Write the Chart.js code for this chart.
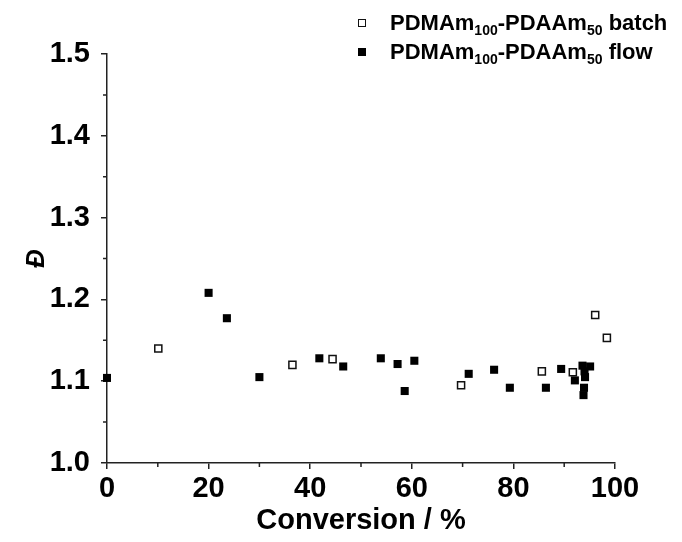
<!DOCTYPE html>
<html>
<head>
<meta charset="utf-8">
<script src="https://cdn.jsdelivr.net/npm/chart.js@4.4.3/dist/chart.umd.min.js"></script>
<style>
  *{box-sizing:border-box;margin:0;padding:0}
  body{background:#fff}
  #wrap{position:relative;width:682px;height:542px}
  .legend{position:absolute;left:358px;top:8px;font:bold 22px "Liberation Sans",Arial,sans-serif;color:#000}
  .row{display:flex;align-items:center;height:29px;white-space:nowrap}
  .mk{width:8px;height:8px;margin-right:24px}
  .mk.open{border:1.5px solid #111;background:#fff}
  .mk.fill{background:#000}
  sub{font-size:14px;vertical-align:-5px;line-height:0}
</style>
</head>
<body>
<div id="wrap">
  <canvas id="c" width="682" height="542"></canvas>
  <div class="legend">
    <div class="row"><span class="mk open"></span><span>PDMAm<sub>100</sub>-PDAAm<sub>50</sub> batch</span></div>
    <div class="row"><span class="mk fill"></span><span>PDMAm<sub>100</sub>-PDAAm<sub>50</sub> flow</span></div>
  </div>
</div>
<script>
// conversion (%) and dispersity
const batchX = [10.1, 36.5, 44.4, 69.7, 85.6, 91.7, 96.1, 98.4]
const batchY = [1.140, 1.120, 1.127, 1.095, 1.112, 1.111, 1.181, 1.153]
const flowX = [0, 20.0, 23.6, 30.0, 41.8, 46.5, 53.9, 57.2, 58.6, 60.5, 71.2, 76.2, 79.3, 86.4, 89.4, 92.1, 93.6, 95.1, 94.1, 93.9, 93.8, 94.0]
const flowY = [1.104, 1.208, 1.177, 1.105, 1.128, 1.118, 1.128, 1.121, 1.088, 1.125, 1.109, 1.114, 1.092, 1.092, 1.115, 1.101, 1.119, 1.118, 1.105, 1.092, 1.083, 1.112]

const xMinor = [10, 30, 50, 70, 90]
const yMinor = [1.05, 1.15, 1.25, 1.35, 1.45]

const AXIS = '#222'
const FONT = '"Liberation Sans", Arial, sans-serif'

const pts = (xs, ys) => xs.map((x, i) => ({ x, y: ys[i] }))

// short minor ticks between the labelled ones
const minorTicks = {
  id: 'minorTicks',
  beforeDatasetsDraw(chart) {
    const { ctx, scales: { x, y } } = chart
    ctx.save()
    ctx.strokeStyle = AXIS
    ctx.lineWidth = 1.5
    ctx.beginPath()
    xMinor.forEach(v => {
      const px = x.getPixelForValue(v)
      ctx.moveTo(px, y.bottom); ctx.lineTo(px, y.bottom + 4)
    })
    yMinor.forEach(v => {
      const py = y.getPixelForValue(v)
      ctx.moveTo(x.left, py); ctx.lineTo(x.left - 4, py)
    })
    ctx.stroke()
    ctx.restore()
  }
}

const axisGrid = { display: true, drawOnChartArea: false, drawTicks: true, tickLength: 6, color: AXIS, lineWidth: 1.5 }
const tickFont = { family: FONT, size: 29, weight: 'bold' }

new Chart(document.getElementById('c'), {
  type: 'scatter',
  data: {
    datasets: [
      { label: 'batch', data: pts(batchX, batchY), pointStyle: 'rect', pointRadius: 5.0,
        backgroundColor: '#fff', borderColor: '#111', borderWidth: 1.5, clip: false },
      { label: 'flow', data: pts(flowX, flowY), pointStyle: 'rect', pointRadius: 5.7,
        backgroundColor: '#000', borderColor: '#000', borderWidth: 0, clip: false },
    ]
  },
  options: {
    responsive: false,
    animation: false,
    layout: { padding: { left: 4, right: 67, top: 54, bottom: 4 } },
    plugins: { legend: { display: false }, tooltip: { enabled: false } },
    scales: {
      x: {
        type: 'linear', min: 0, max: 100,
        afterFit: s => { s.height = 75 },
        grid: axisGrid,
        border: { display: true, color: AXIS, width: 1.5 },
        ticks: { stepSize: 20, color: '#000', padding: 3, font: tickFont },
        title: { display: true, text: 'Conversion / %', color: '#000', padding: 0, font: tickFont }
      },
      y: {
        type: 'linear', min: 1.0, max: 1.5,
        afterFit: s => { s.width = 103 },
        grid: axisGrid,
        border: { display: true, color: AXIS, width: 1.5 },
        ticks: { stepSize: 0.1, color: '#000', padding: 11, callback: v => v.toFixed(1), font: tickFont },
        title: { display: true, text: 'Đ', color: '#000', padding: { top: 17, bottom: 0 },
          font: { family: FONT, size: 26, weight: 'bold', style: 'italic' } }
      }
    }
  },
  plugins: [minorTicks]
})
</script>
</body>
</html>
